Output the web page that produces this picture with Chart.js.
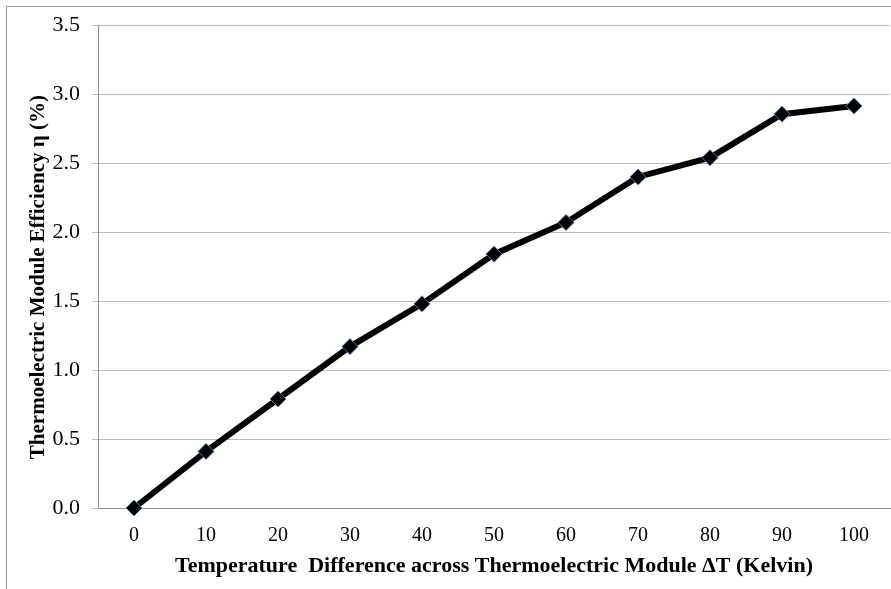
<!DOCTYPE html>
<html>
<head>
<meta charset="utf-8">
<script src="https://cdn.jsdelivr.net/npm/chart.js@4.4.1/dist/chart.umd.min.js"></script>
<style>
  html, body { margin: 0; padding: 0; background: #fff; overflow: hidden; }
  #wrap { position: relative; width: 891px; height: 589px; }
</style>
</head>
<body>
<div id="wrap"><canvas id="myChart" width="891" height="589"></canvas></div>
<script>
// temperature difference (K) and measured efficiency (%)
var deltaT = ['0', '10', '20', '30', '40', '50', '60', '70', '80', '90', '100'];
var efficiency = [0.00, 0.41, 0.79, 1.17, 1.48, 1.84, 2.07, 2.40, 2.54, 2.855, 2.915];
var yTicks = [0, 0.5, 1.0, 1.5, 2.0, 2.5, 3.0, 3.5];

var serif = "'Liberation Serif', 'Times New Roman', serif";

// outer frame of the chart object (only top and left edges are inside the picture)
var framePlugin = {
    id: 'frame',
    beforeDraw: function(chart) {
        var ctx = chart.ctx;
        ctx.save();
        ctx.fillStyle = '#fff';
        ctx.fillRect(0, 0, chart.width, chart.height);
        ctx.strokeStyle = '#9a9a9a';
        ctx.lineWidth = 1;
        ctx.strokeRect(6.5, 6.5, 1000, 1000);
        ctx.restore();
    }
};

let myChart = new Chart('myChart', {
    type: 'line',
    data: {
        labels: deltaT,
        datasets: [{
            data: efficiency,
            borderColor: '#000',
            borderWidth: 6,
            tension: 0,
            pointStyle: 'rectRot',
            pointRadius: 8,
            pointHoverRadius: 8,
            pointBackgroundColor: '#000',
            pointBorderColor: '#4f7bb0',
            pointBorderWidth: 1,
            clip: false
        }]
    },
    options: {
        responsive: false,
        animation: false,
        layout: { autoPadding: false, padding: { top: 24, right: 1, left: 0, bottom: 0 } },
        plugins: {
            legend: { display: false },
            tooltip: { enabled: false }
        },
        scales: {
            x: {
                offset: true,
                grid: { display: false, drawTicks: false },
                border: { display: true, color: '#8c8c8c', width: 1 },
                ticks: {
                    padding: 16,
                    maxRotation: 0,
                    autoSkip: false,
                    color: '#000',
                    font: { family: serif, size: 20 }
                },
                title: {
                    display: true,
                    text: 'Temperature  Difference across Thermoelectric Module \u0394T (Kelvin)',
                    color: '#000',
                    font: { family: serif, size: 22, weight: 'bold' },
                    padding: { top: 0, bottom: 9 }
                },
                afterFit: function(scale) {
                    scale.height = 81;
                    scale.paddingLeft = 0;
                    scale.paddingRight = 0;
                }
            },
            y: {
                min: 0,
                max: 3.5,
                afterBuildTicks: function(scale) {
                    scale.ticks = yTicks.map(function(v) { return { value: v }; });
                },
                grid: {
                    color: '#bdbdbd',
                    lineWidth: 1,
                    drawTicks: true,
                    tickLength: 6
                },
                border: { display: true, color: '#8c8c8c', width: 1 },
                ticks: {
                    padding: 12,
                    color: '#000',
                    font: { family: serif, size: 22 },
                    callback: function(v) { return Number(v).toFixed(1); }
                },
                title: {
                    display: true,
                    text: 'Thermoelectric Module Efficiency \u03b7 (%)    ',
                    color: '#000',
                    font: { family: serif, size: 21, weight: 'bold' },
                    padding: { top: 26, bottom: 0 }
                },
                afterFit: function(scale) { scale.width = 98; }
            }
        }
    },
    plugins: [framePlugin]
});
</script>
</body>
</html>
